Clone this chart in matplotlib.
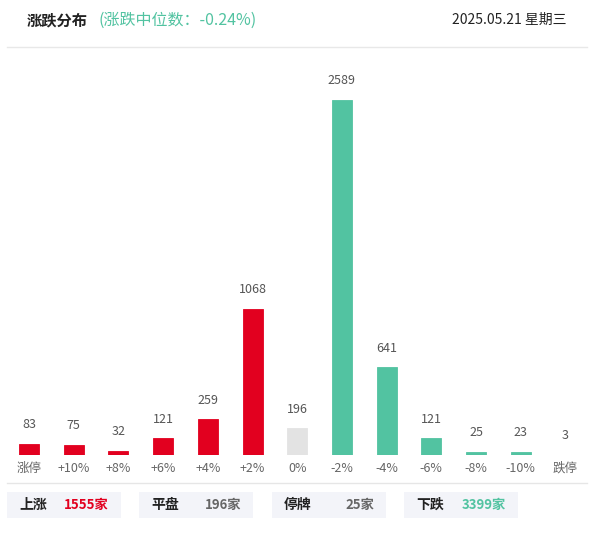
import matplotlib
matplotlib.use("Agg")
import matplotlib.pyplot as plt
from matplotlib.patches import Rectangle
from matplotlib.lines import Line2D

plt.rcParams['font.family'] = ['Noto Sans CJK SC', 'DejaVu Sans']

categories = ['涨停', '+10%', '+8%', '+6%', '+4%', '+2%', '0%', '-2%', '-4%', '-6%', '-8%', '-10%', '跌停']
values = [83, 75, 32, 121, 259, 1068, 196, 2589, 641, 121, 25, 23, 3]
bar_colors = ['#E2001F'] * 6 + ['#E3E3E3'] + ['#52C3A1'] * 5 + ['#C9EFE2']

title = '涨跌分布'
subtitle = '(涨跌中位数：-0.24%)'
date_text = '2025.05.21 星期三'
summary_labels = ['上涨', '平盘', '停牌', '下跌']
summary_values = ['1555家', '196家', '25家', '3399家']
summary_colors = ['#E2001F', '#666666', '#666666', '#52C3A1']

W, H = 591, 533
fig = plt.figure(figsize=(W / 100, H / 100), dpi=100)
fig.patch.set_facecolor('white')

def fx(px):
    return px / W

def fy(py):
    return 1 - py / H

# axes: baseline at y=455px, top (max value) at y=100px
ax_bottom = fy(455)
ax_top = fy(100)
ax = fig.add_axes([0, ax_bottom, 1, ax_top - ax_bottom])
x0, step = 29.0, 44.7
ax.set_xlim((0 - x0) / step, (W - x0) / step)
ax.set_ylim(0, max(values))
xs = list(range(len(categories)))
bars = ax.bar(xs, values, width=20 / step, color=bar_colors, edgecolor=bar_colors, linewidth=0.6)
for x, v in zip(xs, values):
    ax.annotate(str(v), (x, v), xytext=(0, 9), textcoords='offset points',
                ha='center', va='bottom', fontsize=9, color='#555555', annotation_clip=False)
ax.set_xticks(xs)
ax.set_xticklabels(categories, fontsize=9, color='#666666')
ax.tick_params(axis='x', length=0, pad=5)
ax.set_yticks([])
for s in ax.spines.values():
    s.set_visible(False)
ax.patch.set_alpha(0)

# header
fig.text(fx(27), fy(20), title, fontsize=11, fontweight='bold', color='#222222', va='center', ha='left')
fig.text(fx(99), fy(20), subtitle, fontsize=11.5, color='#52C3A1', va='center', ha='left')
fig.text(fx(566), fy(20), date_text, fontsize=10, color='#222222', va='center', ha='right')
fig.add_artist(Line2D([fx(7), fx(587)], [fy(47), fy(47)], color='#E8E8E8', lw=1))
fig.add_artist(Line2D([fx(7), fx(587)], [fy(483), fy(483)], color='#E6E6E6', lw=1))

# summary boxes
box_lefts = [7, 139, 272, 404]
for i, bl in enumerate(box_lefts):
    fig.add_artist(Rectangle((fx(bl), fy(518)), fx(114), fy(492) - fy(518),
                             facecolor='#F3F4F9', edgecolor='none'))
    fig.text(fx(bl + 12), fy(505), summary_labels[i], fontsize=10, fontweight='bold',
             color='#222222', va='center', ha='left')
    fig.text(fx(bl + 102), fy(505), summary_values[i], fontsize=9.5, fontweight='bold',
             color=summary_colors[i], va='center', ha='right')

fig.savefig('out.png', dpi=100)
